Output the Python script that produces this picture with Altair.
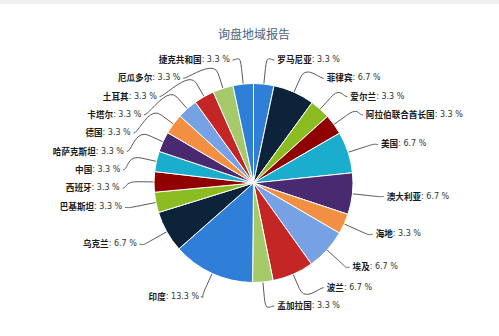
import altair as alt
import pandas as pd

title_text = "询盘地域报告"
countries = ["罗马尼亚", "菲律宾", "爱尔兰", "阿拉伯联合酋长国", "美国", "澳大利亚", "海地",
             "埃及", "波兰", "孟加拉国", "印度", "乌克兰", "巴基斯坦", "西班牙", "中国",
             "哈萨克斯坦", "德国", "卡塔尔", "土耳其", "厄瓜多尔", "捷克共和国"]
shares = [3.3, 6.7, 3.3, 3.3, 6.7, 6.7, 3.3, 6.7, 6.7, 3.3, 13.3, 6.7, 3.3, 3.3, 3.3,
          3.3, 3.3, 3.3, 3.3, 3.3, 3.3]
palette = ["#2f7ed8", "#0d233a", "#8bbc21", "#910000", "#1aadce",
           "#492970", "#f28f43", "#77a1e5", "#c42525", "#a6c96a"]

df = pd.DataFrame({"country": countries, "share": shares, "idx": list(range(len(countries)))})
colors = [palette[i % len(palette)] for i in range(len(countries))]

W, H = 499, 336
CX, CY, R = 253.5, 183, 99.5
S, TOP, BOT = 18.3, 60, 306      # label spacing and limits
LA, LB = 134, 125                # label ellipse
FS = 8.6                         # name font size

base = alt.Chart(df)

pie = base.mark_arc(outerRadius=R, stroke="white", strokeWidth=1).encode(
    theta=alt.Theta("share:Q", stack=True),
    order=alt.Order("idx:Q"),
    color=alt.Color("country:N", scale=alt.Scale(domain=countries, range=colors), legend=None),
    x=alt.value(CX), y=alt.value(CY),
)

lab = (
    base.transform_joinaggregate(total="sum(share)")
    .transform_window(cum="sum(share)", sort=[alt.SortField("idx")], frame=[None, 0])
    .transform_calculate(mid="(datum.cum - datum.share/2)/datum.total*2*PI")
    .transform_calculate(side="datum.mid < PI ? 'R' : 'L'")
    .transform_calculate(yc=f"clamp({CY} - {LB}*cos(datum.mid), {TOP}, {BOT})")
    .transform_window(rn="row_number()", groupby=["side"], sort=[alt.SortField("yc")])
    .transform_calculate(i0="datum.rn - 1")
    .transform_calculate(v=f"datum.yc - {S}*datum.i0")
    .transform_window(cm="max(v)", groupby=["side"], sort=[alt.SortField("yc")], frame=[None, 0])
    .transform_window(cmin="min(cm)", groupby=["side"], sort=[alt.SortField("yc")], frame=[0, None])
    .transform_joinaggregate(n="count()", groupby=["side"])
    .transform_calculate(ly=f"min(datum.cmin + {S}*datum.i0, {BOT} - {S}*(datum.n - 1 - datum.i0))")
    .transform_calculate(dxe=f"{LA}*sqrt(max(0, 1 - pow((datum.ly - {CY})/{LB}, 2)))")
    .transform_calculate(sgn="datum.side == 'R' ? 1 : -1")
    .transform_calculate(val="': ' + format(datum.share, '.1f') + ' %'")
    .transform_calculate(lx=f"{CX} + datum.sgn*datum.dxe")
    .transform_calculate(nameW=f"length(datum.country)*{FS}")
    .transform_calculate(valW="length(datum.val)*4.0")
    .transform_calculate(name_x="datum.side == 'R' ? datum.lx : datum.lx - datum.valW - datum.nameW")
    .transform_calculate(val_x="datum.side == 'R' ? datum.lx + datum.nameW : datum.lx - datum.valW")
)

xs = alt.Scale(domain=[0, W], nice=False, zero=False)
ys = alt.Scale(domain=[0, H], nice=False, zero=False, reverse=True)

names = lab.mark_text(align="left", baseline="middle", font="Noto Sans CJK SC",
                      fontWeight="bold", fontSize=FS, color="#1a1a1a").encode(
    x=alt.X("name_x:Q", scale=xs, axis=None),
    y=alt.Y("ly:Q", scale=ys, axis=None),
    text="country:N",
)
vals = lab.mark_text(align="left", baseline="middle", font="DejaVu Sans",
                     fontSize=8, color="#333333").encode(
    x=alt.X("val_x:Q", scale=xs, axis=None),
    y=alt.Y("ly:Q", scale=ys, axis=None),
    text="val:N",
)

conn = (
    lab.transform_calculate(ts="[0,0.1,0.2,0.3,0.4,0.5,0.6,0.7,0.8,0.9,1,2]")
    .transform_flatten(["ts"])
    .transform_calculate(ux="sin(datum.mid)")
    .transform_calculate(uy="-cos(datum.mid)")
    .transform_calculate(p0x="datum.lx - datum.sgn*3")
    .transform_calculate(p1x="datum.p0x - datum.sgn*5")
    .transform_calculate(p2x=f"{CX} + 130*datum.ux")
    .transform_calculate(p2y=f"{CY} + 130*datum.uy")
    .transform_calculate(p3x=f"{CX} + 115*datum.ux")
    .transform_calculate(p3y=f"{CY} + 115*datum.uy")
    .transform_calculate(t="min(datum.ts, 1)")
    .transform_calculate(px=f"datum.ts > 1 ? {CX} + {R}*datum.ux : "
                            "pow(1-datum.t,3)*datum.p0x + 3*pow(1-datum.t,2)*datum.t*datum.p1x + "
                            "3*(1-datum.t)*datum.t*datum.t*datum.p2x + pow(datum.t,3)*datum.p3x")
    .transform_calculate(py=f"datum.ts > 1 ? {CY} + {R}*datum.uy : "
                            "pow(1-datum.t,3)*datum.ly + 3*pow(1-datum.t,2)*datum.t*datum.ly + "
                            "3*(1-datum.t)*datum.t*datum.t*datum.p2y + pow(datum.t,3)*datum.p3y")
    .mark_line(color="#5a5a5a", strokeWidth=1)
    .encode(
        x=alt.X("px:Q", scale=xs, axis=None),
        y=alt.Y("py:Q", scale=ys, axis=None),
        detail="country:N",
        order="ts:Q",
    )
)

tdf = pd.DataFrame({"t": [title_text]})
band = alt.Chart(tdf).mark_rect(color="#f0f0f0").encode(
    x=alt.value(0), x2=alt.value(W), y=alt.value(0), y2=alt.value(4))
title = alt.Chart(tdf).mark_text(font="Noto Sans CJK SC", fontSize=12, color="#4a6580",
                                 baseline="middle", align="center").encode(
    x=alt.value(254), y=alt.value(35), text="t:N")

chart = alt.layer(band, title, conn, pie, names, vals).properties(
    width=W, height=H, padding=0, autosize="none", background="white"
).configure_view(stroke=None)

chart.save("out.html", embed_options={"renderer": "svg", "actions": False})
